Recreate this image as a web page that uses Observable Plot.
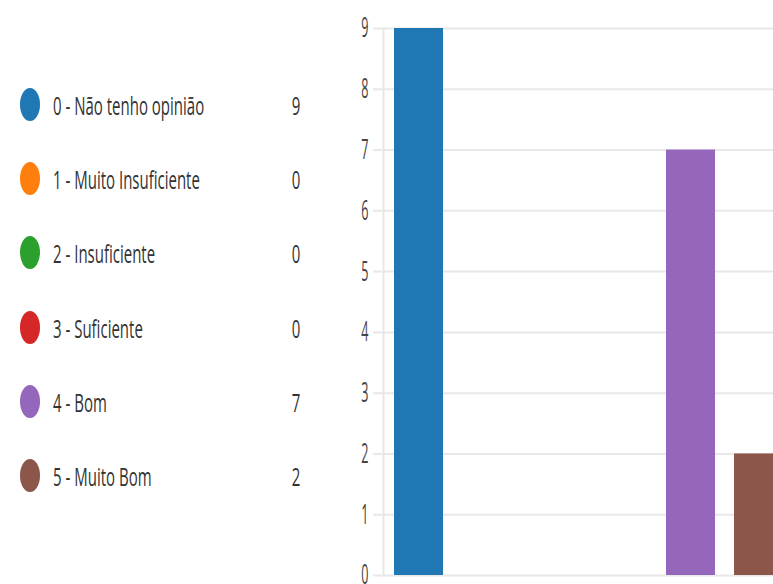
<!DOCTYPE html>
<html><head><meta charset="utf-8">
<script src="https://cdn.jsdelivr.net/npm/d3@7"></script>
<script src="https://cdn.jsdelivr.net/npm/@observablehq/plot@0.6"></script>
<style>
html,body{margin:0;padding:0;width:773px;height:584px;overflow:hidden;background:#fff;}
body{position:relative;font-family:"Open Sans","Noto Sans",sans-serif;color:#333;}
#chart{position:absolute;left:0;top:0;width:793px;height:584px;}
#chart svg{max-width:none !important;}
.row{position:absolute;left:0;width:320px;height:40px;}
.dot{position:absolute;left:20px;top:3px;width:20px;height:33px;border-radius:50%;}
.lab{position:absolute;left:53px;top:0;font-size:25px;line-height:40px;white-space:nowrap;transform:scaleX(0.6);transform-origin:0 50%;}
.cnt{position:absolute;right:20px;top:0;font-size:25px;line-height:40px;white-space:nowrap;transform:scaleX(0.6);transform-origin:100% 50%;}
</style>
</head><body>
<div id="chart"></div>
<div id="legend"></div>
<script>
const categories = ["0 - Não tenho opinião","1 - Muito Insuficiente","2 - Insuficiente","3 - Suficiente","4 - Bom","5 - Muito Bom"];
const counts = [9, 0, 0, 0, 7, 2];
const colors = ["#1f77b4","#ff7f0e","#2ca02c","#d62728","#9467bd","#8c564b"];
const yTicks = [0,1,2,3,4,5,6,7,8,9];

const data = categories.map((c, i) => ({cat: c, count: counts[i]}));

const plot = Plot.plot({
  width: 793, height: 584,
  marginTop: 28, marginBottom: 9, marginLeft: 383, marginRight: 0,
  style: {fontFamily: "'Open Sans','Noto Sans',sans-serif", fontSize: "28px", color: "#444", background: "transparent", maxWidth: "none"},
  x: {domain: categories, paddingInner: 0.285, paddingOuter: 0.131, align: 0.5, axis: null},
  y: {domain: [0, 9], ticks: yTicks, label: null},
  color: {domain: categories, range: colors},
  marks: [
    Plot.gridY(yTicks, {stroke: "#e8e8e8", strokeOpacity: 1, strokeWidth: 2}),
    Plot.frame({anchor: "left", stroke: "#e8e8e8", strokeWidth: 2}),
    Plot.barY(data, {x: "cat", y: "count", fill: "cat"}),
    Plot.axisY(yTicks, {tickSize: 10, tickPadding: 5, stroke: "#e8e8e8", strokeWidth: 2, fill: "#444", fontSize: 28, label: null, tickFormat: d => String(d)})
  ]
});
document.getElementById("chart").appendChild(plot);

// horizontally condensed text, as in the reference
const s = 0.45;
plot.querySelectorAll("text").forEach(t => {
  t.style.fontSize = "28px";
  const tr = t.getAttribute("transform") || "";
  const xa = t.getAttribute("x");
  const xv = xa != null && !isNaN(+xa) ? +xa : 0;
  if (xv !== 0) t.setAttribute("x", 0);
  t.setAttribute("transform", `${tr} translate(${xv},0) scale(${s},1)`);
});

const legend = document.getElementById("legend");
categories.forEach((c, i) => {
  const row = document.createElement("div");
  row.className = "row";
  row.style.top = (105 + i * 74.2 - 20) + "px";
  row.innerHTML = `<div class="dot" style="background:${colors[i]}"></div><div class="lab">${c}</div><div class="cnt">${counts[i]}</div>`;
  legend.appendChild(row);
});
</script>
</body></html>
